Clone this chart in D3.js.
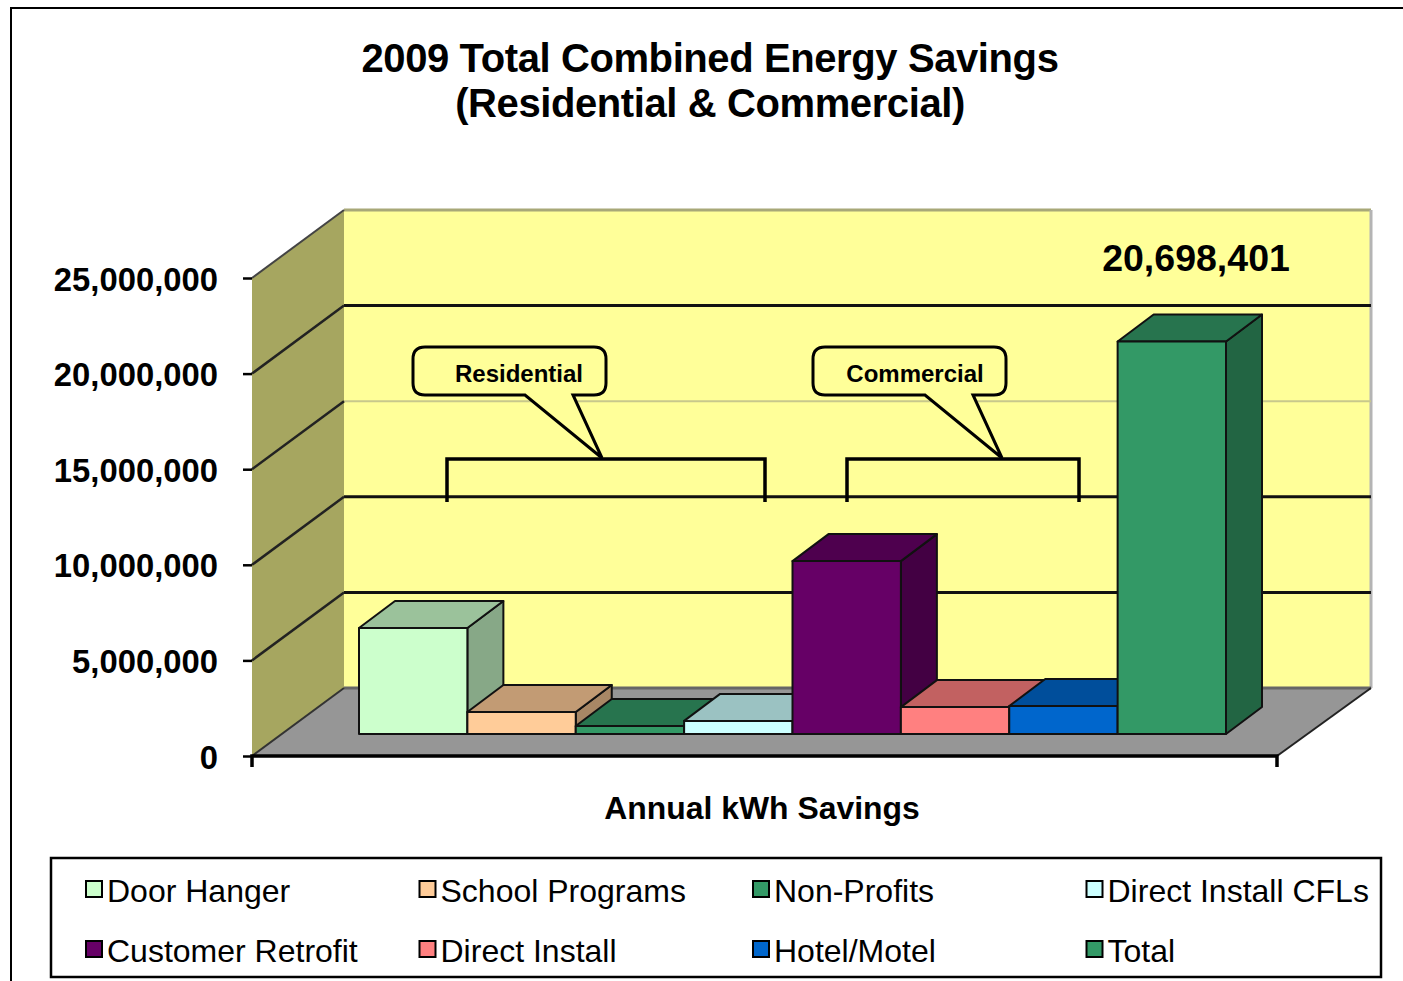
<!DOCTYPE html>
<html>
<head>
<meta charset="utf-8">
<script src="https://cdn.jsdelivr.net/npm/d3@7"></script>
<style>
  html, body { margin: 0; padding: 0; background: #fff; overflow: hidden; }
  text { font-family: "Liberation Sans", Arial, sans-serif; fill: #000; }
</style>
</head>
<body>
<div id="main"></div>
<script>
var series = ["Door Hanger", "School Programs", "Non-Profits", "Direct Install CFLs",
              "Customer Retrofit", "Direct Install", "Hotel/Motel", "Total"];
var savings = [5590000, 1160000, 420000, 690000, 9120000, 1420000, 1480000, 20698401];
var colors = ["#ccffcc", "#ffcc99", "#339966", "#ccffff", "#660066", "#ff8080", "#0066cc", "#339966"];
var axisTicks = [0, 5000000, 10000000, 15000000, 20000000, 25000000];
var titleLines = ["2009 Total Combined Energy Savings", "(Residential & Commercial)"];

var width = 1403, height = 981;

// box of the 3d chart: front floor edge and how far the back wall is shifted
var frontLeft = 252, frontRight = 1277, frontY = 756;
var depth = {x: 92, y: -68};
var barDepth = {x: 36, y: -27};

var svg = d3.select("#main").append("svg")
    .attr("width", width)
    .attr("height", height);

// frame of the picture, cut by the window on the right and bottom
svg.append("path")
    .attr("d", "M11,981V8H1403")
    .attr("fill", "none")
    .attr("stroke", "#000")
    .attr("stroke-width", 2);

var y = d3.scaleLinear().domain([0, 25000000]).range([frontY, 278]);
var x = d3.scaleBand().domain(series).range([359, 1226]);
var barHeight = d3.scaleLinear().domain([0, 25000000]).range([0, 474]);
var barBase = 734;

var pts = function(list) {
  return list.map(function(p) { return p.join(","); }).join(" ");
};

var backLeft = frontLeft + depth.x, backRight = frontRight + 94;

// walls and floor
svg.append("rect")
    .attr("x", backLeft).attr("y", y(25000000) + depth.y)
    .attr("width", backRight - backLeft)
    .attr("height", frontY - y(25000000))
    .attr("fill", "#ffff99");

svg.append("polygon")
    .attr("points", pts([[frontLeft, frontY], [backLeft, frontY + depth.y],
                         [backLeft, y(25000000) + depth.y], [frontLeft, y(25000000)]]))
    .attr("fill", "#a6a660");

svg.append("polygon")
    .attr("points", pts([[frontLeft, frontY], [frontRight, frontY],
                         [backRight, frontY + depth.y], [backLeft, frontY + depth.y]]))
    .attr("fill", "#969696");

// wall edges
svg.append("line")
    .attr("x1", backLeft).attr("x2", backRight)
    .attr("y1", y(25000000) + depth.y).attr("y2", y(25000000) + depth.y)
    .attr("stroke", "#a8a878").attr("stroke-width", 3);
svg.append("line")
    .attr("x1", backRight).attr("x2", backRight)
    .attr("y1", y(25000000) + depth.y).attr("y2", frontY + depth.y)
    .attr("stroke", "#b4b4b4").attr("stroke-width", 3);
svg.append("line")
    .attr("x1", backLeft).attr("x2", backRight)
    .attr("y1", frontY + depth.y).attr("y2", frontY + depth.y)
    .attr("stroke", "#666").attr("stroke-width", 3);
svg.append("line")
    .attr("x1", frontRight).attr("y1", frontY)
    .attr("x2", backRight).attr("y2", frontY + depth.y)
    .attr("stroke", "#222").attr("stroke-width", 2);
svg.append("line")
    .attr("x1", frontLeft).attr("y1", frontY)
    .attr("x2", backLeft).attr("y2", frontY + depth.y)
    .attr("stroke", "#333").attr("stroke-width", 2);
svg.append("line")
    .attr("x1", frontLeft).attr("y1", y(25000000))
    .attr("x2", backLeft).attr("y2", y(25000000) + depth.y)
    .attr("stroke", "#444").attr("stroke-width", 2);

// gridlines, the 15M one is nearly gone in the source picture
var grid = svg.append("g").selectAll("g")
    .data(axisTicks.slice(1, 5))
    .enter().append("g");

grid.append("line")
    .attr("x1", backLeft).attr("x2", backRight)
    .attr("y1", function(d) { return y(d) + depth.y; })
    .attr("y2", function(d) { return y(d) + depth.y; })
    .attr("stroke", function(d) { return d === 15000000 ? "#c8c88c" : "#111"; })
    .attr("stroke-width", function(d) { return d === 15000000 ? 2 : 3; });

grid.append("line")
    .attr("x1", frontLeft).attr("x2", backLeft)
    .attr("y1", function(d) { return y(d); })
    .attr("y2", function(d) { return y(d) + depth.y; })
    .attr("stroke", "#222")
    .attr("stroke-width", 2.5);

// bars, left to right so each one covers the side of the one before
var bars = svg.append("g").selectAll("g")
    .data(series)
    .enter().append("g")
    .attr("stroke", "#111")
    .attr("stroke-width", 2)
    .attr("stroke-linejoin", "round");

var shade = function(i, k) {
  var c = d3.rgb(colors[i]);
  return d3.rgb(c.r * k, c.g * k, c.b * k).formatHex();
};

bars.append("polygon")
    .attr("points", function(d, i) {
      var r = x(d) + x.bandwidth(), t = barBase - barHeight(savings[i]);
      return pts([[r, barBase], [r + barDepth.x, barBase + barDepth.y],
                  [r + barDepth.x, t + barDepth.y], [r, t]]);
    })
    .attr("fill", function(d, i) { return shade(i, 0.66); });

bars.append("polygon")
    .attr("points", function(d, i) {
      var l = x(d), r = l + x.bandwidth(), t = barBase - barHeight(savings[i]);
      return pts([[l, t], [r, t], [r + barDepth.x, t + barDepth.y], [l + barDepth.x, t + barDepth.y]]);
    })
    .attr("fill", function(d, i) { return shade(i, 0.76); });

bars.append("rect")
    .attr("x", function(d) { return x(d); })
    .attr("y", function(d, i) { return barBase - barHeight(savings[i]); })
    .attr("width", x.bandwidth())
    .attr("height", function(d, i) { return barHeight(savings[i]); })
    .attr("fill", function(d, i) { return colors[i]; });

// axes
var yAxis = d3.axisLeft(y)
    .tickValues(axisTicks)
    .tickFormat(d3.format(","))
    .tickSize(9)
    .tickPadding(25);

var axisG = svg.append("g")
    .attr("transform", "translate(" + frontLeft + ",0)")
    .call(yAxis);
axisG.select(".domain").remove();
axisG.selectAll(".tick line").attr("stroke", "#000").attr("stroke-width", 2.5);
axisG.selectAll("text")
    .attr("y", 1.5)
    .attr("font-size", 32.8)
    .attr("font-weight", "bold")
    .style("font-family", '"Liberation Sans", Arial, sans-serif');

svg.append("path")
    .attr("d", "M" + frontLeft + "," + (frontY + 11) + "V" + frontY + "H" + frontRight + "V" + (frontY + 11))
    .attr("fill", "none")
    .attr("stroke", "#000")
    .attr("stroke-width", 3.5);

// title
svg.append("g").selectAll("text")
    .data(titleLines)
    .enter().append("text")
    .attr("x", 710)
    .attr("y", function(d, i) { return 72 + i * 45; })
    .attr("text-anchor", "middle")
    .attr("font-size", 40)
    .attr("letter-spacing", -0.4)
    .attr("font-weight", "bold")
    .text(function(d) { return d; });

svg.append("text")
    .attr("x", 1196).attr("y", 271)
    .attr("text-anchor", "middle")
    .attr("font-size", 37.5)
    .attr("font-weight", "bold")
    .text(d3.format(",")(savings[7]));

svg.append("text")
    .attr("x", 762).attr("y", 819)
    .attr("text-anchor", "middle")
    .attr("font-size", 31.9)
    .attr("font-weight", "bold")
    .text("Annual kWh Savings");

// callouts with their brackets
var callouts = [
  {label: "Residential", left: 413, bracketLeft: 447, bracketRight: 765, textX: 519},
  {label: "Commercial", left: 813, bracketLeft: 847, bracketRight: 1079, textX: 915}
];

var callout = svg.append("g").selectAll("g")
    .data(callouts)
    .enter().append("g");

callout.append("path")
    .attr("d", function(d) {
      var l = d.left, r = l + 193, t = 347, b = 395, c = 12;
      return "M" + (l + c) + "," + t + "H" + (r - c) + "Q" + r + "," + t + " " + r + "," + (t + c)
        + "V" + (b - c) + "Q" + r + "," + b + " " + (r - c) + "," + b
        + "H" + (l + 160) + "L" + (l + 189) + ",458L" + (l + 112) + "," + b
        + "H" + (l + c) + "Q" + l + "," + b + " " + l + "," + (b - c)
        + "V" + (t + c) + "Q" + l + "," + t + " " + (l + c) + "," + t + "Z";
    })
    .attr("fill", "#ffff99")
    .attr("stroke", "#000")
    .attr("stroke-width", 3);

callout.append("path")
    .attr("d", function(d) {
      return "M" + d.bracketLeft + ",502V459H" + d.bracketRight + "V502";
    })
    .attr("fill", "none")
    .attr("stroke", "#000")
    .attr("stroke-width", 3.5);

callout.append("text")
    .attr("x", function(d) { return d.textX; })
    .attr("y", 382)
    .attr("text-anchor", "middle")
    .attr("font-size", 24)
    .attr("font-weight", "bold")
    .text(function(d) { return d.label; });

// legend
svg.append("rect")
    .attr("x", 51).attr("y", 858)
    .attr("width", 1330).attr("height", 119)
    .attr("fill", "#fff")
    .attr("stroke", "#000")
    .attr("stroke-width", 2.5);

var legendCol = d3.scaleBand().domain(d3.range(4)).range([86, 1420]);
var legendRow = d3.scaleBand().domain(d3.range(2)).range([861, 981]);

var legend = svg.append("g").selectAll("g")
    .data(series)
    .enter().append("g")
    .attr("transform", function(d, i) {
      return "translate(" + legendCol(i % 4) + "," + (legendRow(Math.floor(i / 4)) + 30) + ")";
    });

legend.append("rect")
    .attr("x", 0).attr("y", -10)
    .attr("width", 16).attr("height", 16)
    .attr("fill", function(d, i) { return colors[i]; })
    .attr("stroke", "#000")
    .attr("stroke-width", 2);

legend.append("text")
    .attr("x", 21).attr("y", 11)
    .attr("font-size", 32)
    .text(function(d) { return d; });
</script>
</body>
</html>
